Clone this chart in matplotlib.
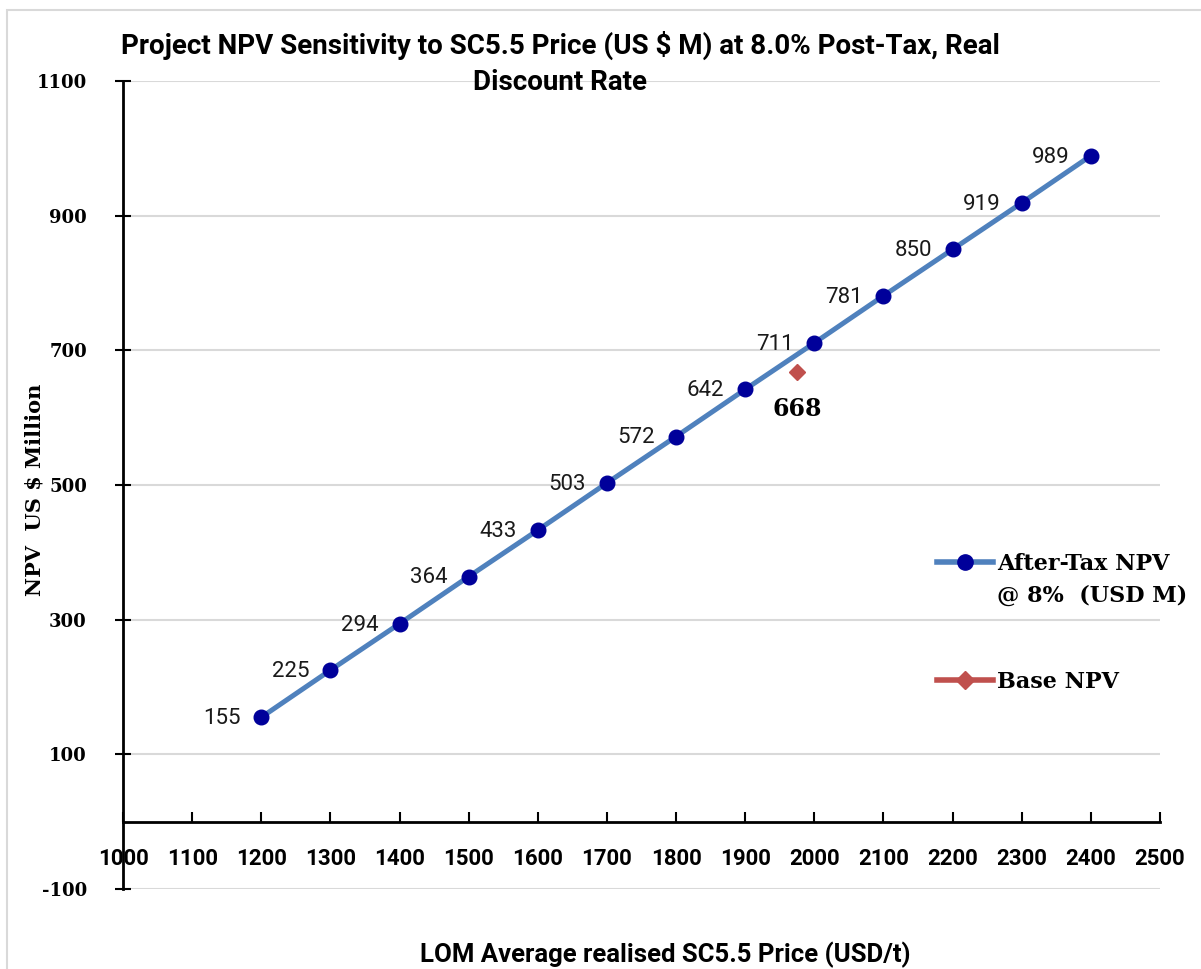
import matplotlib
matplotlib.use("Agg")
import matplotlib.pyplot as plt
from matplotlib.patches import Rectangle
from matplotlib.lines import Line2D

# data
price = [1200, 1300, 1400, 1500, 1600, 1700, 1800, 1900, 2000, 2100, 2200, 2300, 2400]
npv = [155, 225, 294, 364, 433, 503, 572, 642, 711, 781, 850, 919, 989]
base_price = [1975]
base_npv = [668]
x_ticks = list(range(1000, 2501, 100))
y_ticks = [-100, 100, 300, 500, 700, 900, 1100]

title = "Project NPV Sensitivity to SC5.5 Price (US $ M) at 8.0% Post-Tax, Real\nDiscount Rate"
series_label = "After-Tax NPV"
series_label2 = "@ 8%  (USD M)"
base_label = "Base NPV"

SANS = "Roboto"
SERIF = "DejaVu Serif"
BLUE = "#4f81bd"
NAVY = "#00009a"
RED = "#c0504d"

plt.rcParams["axes.unicode_minus"] = False

fig = plt.figure(figsize=(12.01, 9.69), dpi=100)
ax = fig.add_axes([123 / 1201, 80 / 969, (1160 - 123) / 1201, (889 - 81) / 969])

# chart-area border
fig.patches.append(Rectangle((7 / 1201, -0.05), 1.2, 1.05 - 10 / 969, transform=fig.transFigure,
                             fill=False, edgecolor="#d9d9d9", linewidth=1.5, zorder=0))

ax.plot(price, npv, color=BLUE, linewidth=3.6, marker="o", markersize=10.5,
        markerfacecolor=NAVY, markeredgecolor=NAVY, zorder=3)
ax.plot(base_price, base_npv, linestyle="none", marker="D", markersize=8,
        color=RED, zorder=3)

for x, y in zip(price, npv):
    ax.annotate(str(y), (x, y), xytext=(-15, -1), textcoords="offset points",
                ha="right", va="center", fontsize=16, family=SANS, color="#1a1a1a")
ax.annotate(str(base_npv[0]), (base_price[0], base_npv[0]), xytext=(0, -27), textcoords="offset points",
            ha="center", va="center", fontsize=17, family=SERIF, fontweight="bold")

ax.set_xlim(1000, 2500)
ax.set_ylim(-100, 1100)
ax.set_xticks(x_ticks)
ax.set_yticks(y_ticks)
ax.yaxis.grid(True, color="#d9d9d9", linewidth=1.5)
ax.set_axisbelow(True)

for s in ["top", "right"]:
    ax.spines[s].set_visible(False)
ax.spines["bottom"].set_position(("data", 0))
ax.spines["bottom"].set_linewidth(2)
ax.spines["left"].set_linewidth(2)

ax.tick_params(axis="x", direction="in", length=7, width=1.5, pad=19)
ax.tick_params(axis="y", direction="inout", length=12, width=1.5, pad=20)
for lab in ax.get_xticklabels():
    lab.set_fontfamily(SANS)
    lab.set_fontweight("bold")
    lab.set_fontsize(16)
for lab in ax.get_yticklabels():
    lab.set_fontfamily(SERIF)
    lab.set_fontweight("bold")
    lab.set_fontsize(13)

fig.text(560 / 1201, 1 - 31 / 969, title, ha="center", va="top", fontsize=20,
         family=SANS, fontweight="bold", linespacing=1.4)
fig.text(35 / 1201, 1 - 490 / 969, "NPV  US $ Million", rotation=90, ha="center", va="center",
         fontsize=15, family=SERIF, fontweight="bold")
fig.text(665 / 1201, 1 - 955 / 969, "LOM Average realised SC5.5 Price (USD/t)", ha="center", va="center",
         fontsize=18.5, family=SANS, fontweight="bold")

handles = [
    Line2D([], [], color=BLUE, linewidth=4, marker="o", markersize=11,
           markerfacecolor=NAVY, markeredgecolor=NAVY),
    Line2D([], [], color=RED, linewidth=4, marker="D", markersize=9),
]
leg = ax.legend(handles, [series_label, base_label], loc="upper left",
                bbox_to_anchor=((937 - 123) / 1037, 1 - (553 - 81) / 808),
                frameon=False, handlelength=2.5, handletextpad=0.2, labelspacing=4.3,
                borderpad=0, borderaxespad=0,
                prop={"family": SERIF, "weight": "bold", "size": 16})

# second line of the first legend label, set just below the first
fig.canvas.draw()
t0 = leg.get_texts()[0]
bb = t0.get_window_extent().transformed(fig.transFigure.inverted())
fig.text(bb.x0, bb.y0 - 0.010, series_label2, ha="left", va="top",
         family=SERIF, fontweight="bold", fontsize=16)

fig.savefig("out.png", dpi=100, facecolor="white")
